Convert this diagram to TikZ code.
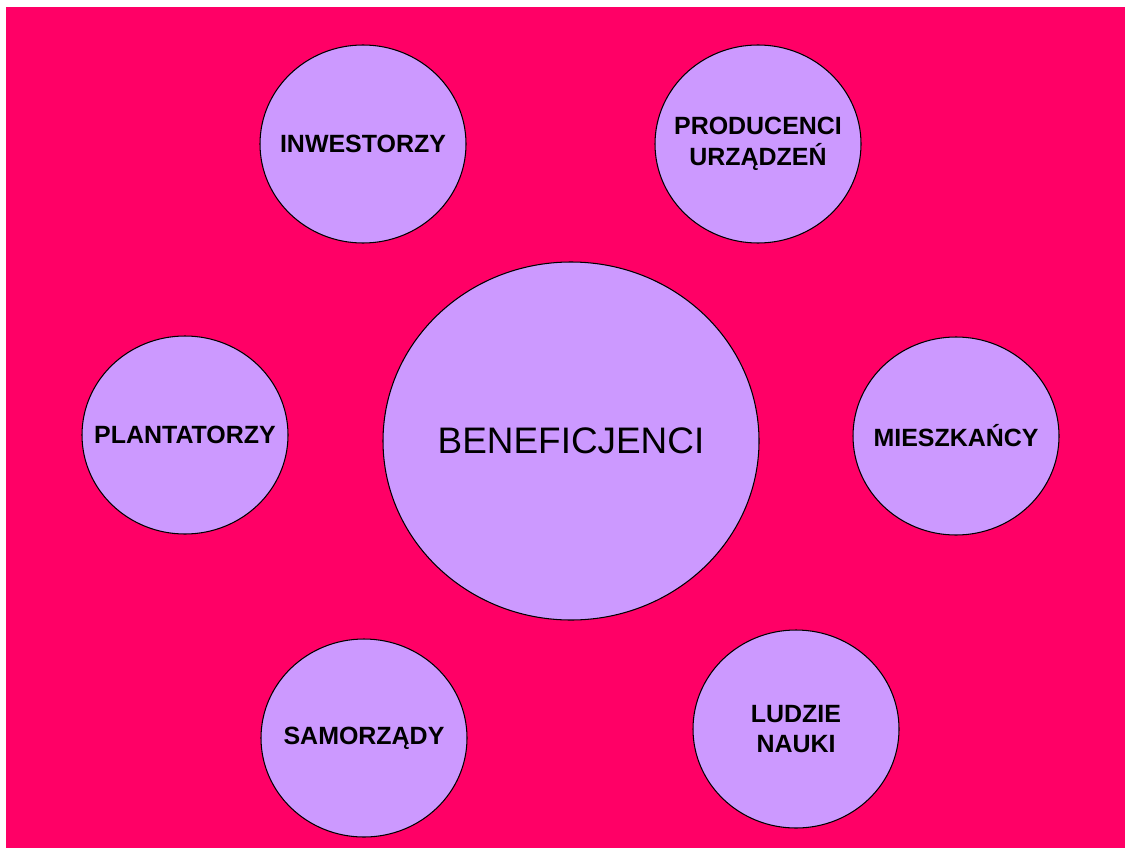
\documentclass[tikz,border=0pt]{standalone}
\usepackage{fontspec}
\setmainfont{Liberation Sans}
\usepackage{xcolor}
\usepackage{tikz}
\usetikzlibrary{shapes.geometric, backgrounds}
\definecolor{tlo}{HTML}{FF0066}
\definecolor{lila}{HTML}{CC99FF}

\begin{document}
\begin{tikzpicture}[line width=0.6pt,
    kolo/.style={shape=ellipse,draw=black,fill=lila,inner sep=0pt,
      minimum width=4.12cm,minimum height=3.96cm},
    duze/.style={shape=ellipse,draw=black,fill=lila,inner sep=0pt,
      minimum width=7.52cm,minimum height=7.16cm},
    napis/.style={align=center,inner sep=0pt,
      font=\bfseries\fontsize{14.2}{17.6}\selectfont},
    tytul/.style={inner sep=0pt,font=\fontsize{21}{24}\selectfont}]
    %%%% tlo
    \fill [white] (0,0) rectangle (22.5,16.96);
    \fill [tlo] (0.12,0) rectangle (22.5,16.82);
    \useasboundingbox (0,0) rectangle (22.5,16.96);

    %%%% kola
    \node (b) at (11.42,8.14) [duze,label={[tytul]center:BENEFICJENCI}] {}; %
    \node (inw) at (7.26,14.08) [kolo,label={[napis]center:INWESTORZY}] {}; %
    \node (prod) at (15.16,14.08) [kolo,label={[napis]center:PRODUCENCI\\URZĄDZEŃ}] {}; %
    \node (plan) at (3.70,8.26) [kolo,label={[napis]center:PLANTATORZY}] {}; %
    \node (mie) at (19.12,8.24) [kolo,label={[napis]center:MIESZKAŃCY}] {}; %
    \node (sam) at (7.28,2.20) [kolo,label={[napis]center:SAMORZĄDY}] {}; %
    \node (lud) at (15.92,2.38) [kolo,label={[napis]center:LUDZIE\\NAUKI}] {}; %
  \end{tikzpicture}
\end{document}
